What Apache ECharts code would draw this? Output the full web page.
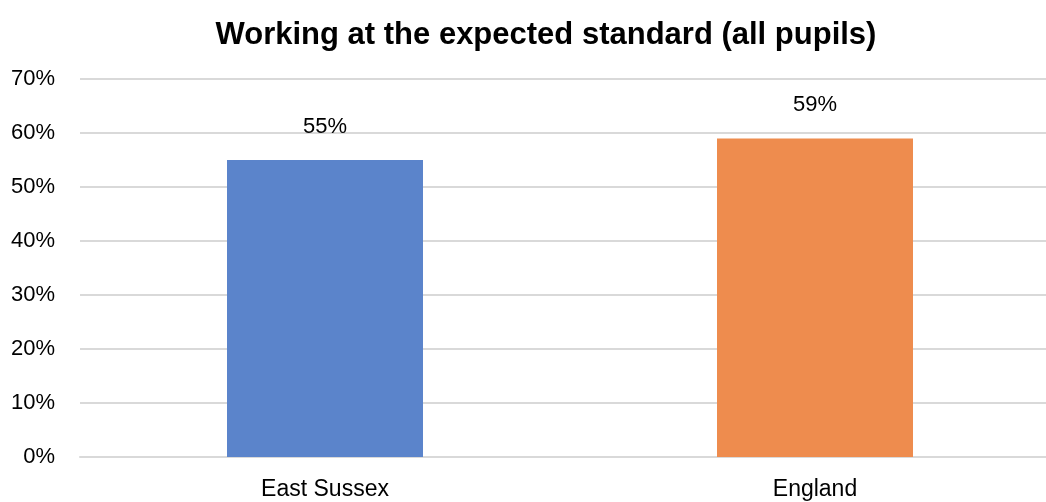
<!DOCTYPE html>
<html><head><meta charset="utf-8">
<script src="https://cdn.jsdelivr.net/npm/echarts@6/dist/echarts.min.js"></script>
<style>html,body{margin:0;padding:0;background:#fff;overflow:hidden}#c{width:1060px;height:502px}</style>
</head><body><div id="c"></div>
<script>
const categories = ["East Sussex", "England"];
const values = [55, 59];
const barColors = ["#5B84CB", "#EE8C4E"];
const titleText = "Working at the expected standard (all pupils)";
const FONT = 'Liberation Sans';

const chart = echarts.init(document.getElementById('c'));
chart.setOption({
  animation: false,
  title: {text: titleText, left: 541, top: 15, textAlign: 'center',
    textStyle: {fontFamily: FONT, fontWeight: 'bold', fontSize: 31, color: '#000'}},
  grid: {left: 80, top: 79, right: 0, height: 378},
  xAxis: {type: 'category', data: categories,
    axisLine: {show: true, lineStyle: {color: '#d9d9d9', width: 2}},
    axisTick: {show: false},
    axisLabel: {fontFamily: FONT, fontSize: 23, color: '#000', margin: 21}},
  yAxis: {type: 'value', min: 0, max: 70, interval: 10,
    axisLabel: {formatter: '{value}%', fontFamily: FONT, fontSize: 22, color: '#000', margin: 25},
    splitLine: {lineStyle: {color: '#d9d9d9', width: 2}},
    axisLine: {show: false}, axisTick: {show: false}},
  series: [{type: 'bar', barWidth: 196,
    data: values.map((v, i) => ({value: v, itemStyle: {color: barColors[i]}})),
    label: {show: true, position: 'top', distance: 22, formatter: '{c}%',
      fontFamily: FONT, fontSize: 22, color: '#000'}}]
});
</script></body></html>
